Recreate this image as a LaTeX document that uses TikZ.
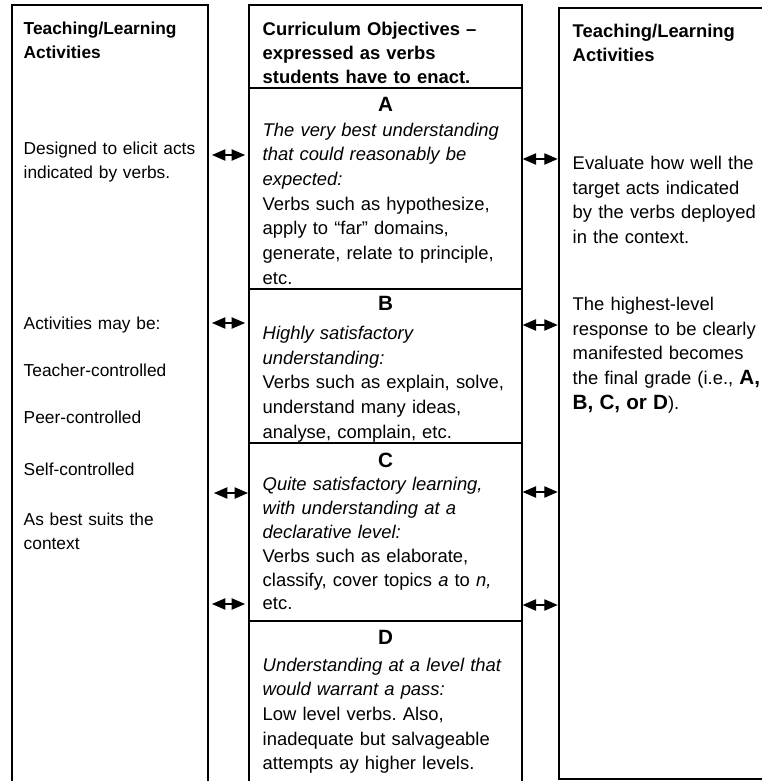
\documentclass[tikz,border=0pt]{standalone}
\usepackage{fontspec}
\setmainfont{Liberation Sans}
\usepackage{tikz}
\usetikzlibrary{arrows.meta, positioning}
\setlength{\parindent}{0pt}
\frenchspacing

\begin{document}
\begin{tikzpicture}[x=0.75pt, y=-0.75pt, node distance=0pt, line width=1.1pt]
    % Define styles
    \tikzstyle{col} = [draw, rectangle, anchor=north west, inner sep=0pt, outer sep=0pt]
    \tikzstyle{cell} = [draw, rectangle, minimum width=204.75pt, inner sep=0pt, outer sep=0pt]
    \tikzstyle{txt} = [anchor=north west, inner sep=0pt, align=left, text width=200pt, font=\fontsize{13.8}{18.5}\selectfont]
    \tikzstyle{ltxt} = [txt, font=\fontsize{13}{17.8}\selectfont]
    \tikzstyle{hdr} = [txt, font=\fontsize{13.8}{18.3}\selectfont\bfseries]
    \tikzstyle{lhdr} = [txt, font=\fontsize{13}{17.8}\selectfont\bfseries]
    \tikzstyle{grade} = [inner sep=0pt, font=\fontsize{15.5}{18}\selectfont\bfseries]
    \tikzstyle{biarrow} = [{Triangle[length=10pt,width=8.5pt]}-{Triangle[length=10pt,width=8.5pt]}, line width=0.8pt]

    \useasboundingbox (0,0) rectangle (761,781);

    % COLUMNS
    \node (leftcol) [col, minimum width=147pt, minimum height=600pt] at (12,5) {};
    \node (rightcol) [col, minimum width=260pt, minimum height=578.25pt] at (559,8) {};

    \node (hdrcell) [cell, anchor=north west, minimum height=62.25pt] at (249,5) {};
    \node (cellA) [cell, minimum height=150.75pt, below=of hdrcell] {};
    \node (cellB) [cell, minimum height=115.5pt, below=of cellA] {};
    \node (cellC) [cell, minimum height=133.5pt, below=of cellB] {};
    \node (cellD) [cell, minimum height=140pt, below=of cellC] {};

    % LEFT TEXT
    \node (lhead) [lhdr] at (23,21.5) {Teaching/Learning\\Activities};
    \node (ldesign) [ltxt] at (23,141.5) {Designed to elicit acts\\indicated by verbs.};
    \node (lmay) [ltxt] at (23,316) {Activities may be:};
    \node (lteach) [ltxt] at (23,363) {Teacher-controlled};
    \node (lpeer) [ltxt] at (23,410) {Peer-controlled};
    \node (lself) [ltxt] at (23,462) {Self-controlled};
    \node (lbest) [ltxt] at (23,512) {As best suits the\\context};

    % MIDDLE TEXT
    \node (mhead) [hdr] at (262,21) {Curriculum Objectives --\\expressed as verbs\\students have to enact.};

    \node (gA) [grade] at (cellA.north |- 0,104) {A};
    \node (tA) [txt] at (262,122) {\textit{The very best understanding\\that could reasonably be\\expected:}\\Verbs such as hypothesize,\\apply to “far” domains,\\generate, relate to principle,\\etc.};

    \node (gB) [grade] at (cellB.north |- 0,303) {B};
    \node (tB) [txt] at (262,325.5) {\textit{Highly satisfactory\\understanding:}\\Verbs such as explain, solve,\\understand many ideas,\\analyse, complain, etc.};

    \node (gC) [grade] at (cellC.north |- 0,460) {C};
    \node (tC) [txt, font=\fontsize{13.8}{17.9}\selectfont] at (262,476.5) {\textit{Quite satisfactory learning,\\with understanding at a\\declarative level:}\\Verbs such as elaborate,\\classify, cover topics \textit{a} to \textit{n,}\\etc.};

    \node (gD) [grade] at (cellD.north |- 0,637) {D};
    \node (tD) [txt] at (262,657) {\textit{Understanding at a level that\\would warrant a pass:}\\Low level verbs. Also,\\inadequate but salvageable\\attempts ay higher levels.};

    % RIGHT TEXT
    \node (rhead) [hdr] at (572,23) {Teaching/Learning\\Activities};
    \node (reval) [txt] at (572,155.5) {Evaluate how well the\\target acts indicated\\by the verbs deployed\\in the context.};
    \node (rgrade) [txt] at (572,296.5) {The highest-level\\response to be clearly\\manifested becomes\\the final grade (i.e., {\fontsize{15.5}{18.5}\selectfont\bfseries A,}\\{\fontsize{15.5}{18.5}\selectfont\bfseries B, C, or D}).};

    % CONNECTIONS
    \coordinate (yA) at (0,155);
    \coordinate (yB) at (0,323);
    \coordinate (yC) at (0,493);
    \coordinate (yD) at (0,604);
    \draw[biarrow, shorten <=3pt, shorten >=3pt] (leftcol.east |- yA) -- (cellA.west |- yA);
    \draw[biarrow, shorten <=3pt, shorten >=3pt] (leftcol.east |- yB) -- (cellB.west |- yB);
    \draw[biarrow, shorten <=4.5pt, shorten >=0.8pt] (leftcol.east |- yC) -- (cellC.west |- yC);
    \draw[biarrow, shorten <=3pt, shorten >=3pt] (leftcol.east |- yD) -- (cellD.west |- yD);

    \coordinate (zA) at (0,159);
    \coordinate (zB) at (0,325);
    \coordinate (zC) at (0,492);
    \coordinate (zD) at (0,605);
    \draw[biarrow, shorten <=0.5pt, shorten >=1pt] (cellA.east |- zA) -- (rightcol.west |- zA);
    \draw[biarrow, shorten <=0.5pt, shorten >=1pt] (cellB.east |- zB) -- (rightcol.west |- zB);
    \draw[biarrow, shorten <=0.5pt, shorten >=1pt] (cellC.east |- zC) -- (rightcol.west |- zC);
    \draw[biarrow, shorten <=0.5pt, shorten >=1pt] (cellD.east |- zD) -- (rightcol.west |- zD);

\end{tikzpicture}
\end{document}
